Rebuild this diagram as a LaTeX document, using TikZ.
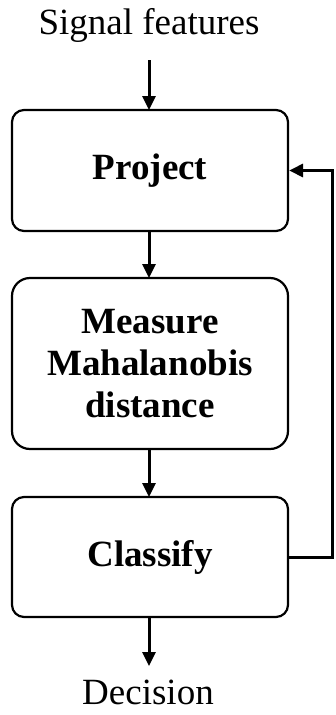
\documentclass[tikz,border=0pt]{standalone}
\usepackage{fontspec}
\setmainfont{Liberation Serif}
\usetikzlibrary{arrows.meta}
\begin{document}
\begin{tikzpicture}[x=1pt,y=-1pt,
  stepbox/.style={draw, line width=2.2pt, rounded corners=12pt, minimum width=276pt,
    align=center, inner sep=0pt, font=\fontsize{37}{42}\selectfont\bfseries},
  lbl/.style={inner sep=0pt, font=\fontsize{37}{42}\selectfont},
  flow/.style={line width=3pt, -{Triangle[length=14pt,width=13pt]}}]
\useasboundingbox (0,0) rectangle (335,715);
\node[lbl] (in) at (149,25) {Signal features};
\node[stepbox, minimum height=121pt] (proj) at (150,170.5) {Project};
\node[stepbox, minimum height=171pt, rounded corners=18pt] (meas) at (150,363.5) {Measure\\Mahalanobis\\distance};
\node[stepbox, minimum height=120pt] (cls) at (150,557) {Classify};
\node[lbl] (dec) at (148,692) {Decision};
\coordinate (fb1) at (332,557);
\coordinate (fb2) at (332,170.5);
\draw[flow] (149,60) -- (149,110);
\draw[flow] (149,231) -- (149,278);
\draw[flow] (149,449) -- (149,497);
\draw[flow] (149,617) -- (149,666);
\draw[flow] (cls.east) -- (fb1) -- (fb2) -- (proj.east);
\end{tikzpicture}
\end{document}
